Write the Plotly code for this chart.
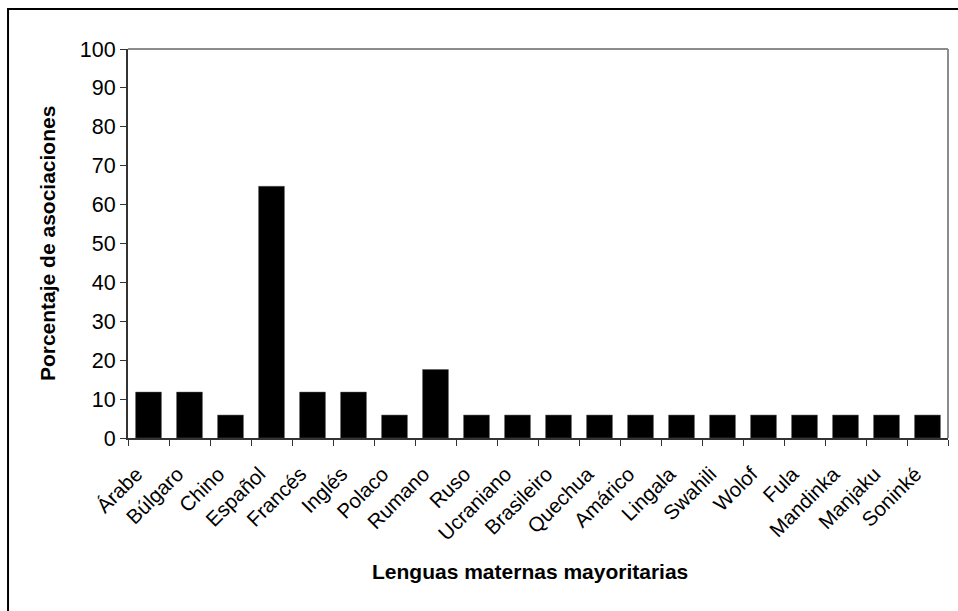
import plotly.graph_objects as go

languages = ["Árabe", "Búlgaro", "Chino", "Español", "Francés", "Inglés", "Polaco",
             "Rumano", "Ruso", "Ucraniano", "Brasileiro", "Quechua", "Amárico",
             "Lingala", "Swahili", "Wolof", "Fula", "Mandinka", "Manjaku", "Soninké"]
percentages = [11.8, 11.8, 5.9, 64.7, 11.8, 11.8, 5.9, 17.6, 5.9, 5.9, 5.9, 5.9,
               5.9, 5.9, 5.9, 5.9, 5.9, 5.9, 5.9, 5.9]
y_ticks = [0, 10, 20, 30, 40, 50, 60, 70, 80, 90, 100]

fig = go.Figure(go.Bar(
    x=languages, y=percentages,
    marker=dict(color="black", line=dict(color="#555555", width=0.5)),
))

fig.update_layout(
    width=958, height=611,
    margin=dict(l=128, r=10, t=49, b=173),
    plot_bgcolor="white", paper_bgcolor="white",
    bargap=0.37,
    showlegend=False,
    font=dict(family="Liberation Sans, Arial", color="black", size=19),
    xaxis=dict(
        tickangle=-45, tickson="boundaries", ticks="outside", ticklen=6,
        tickcolor="#333333", showline=True, linecolor="#333333", linewidth=2,
        tickfont=dict(size=20.5), ticklabelstandoff=14, ticklabelshift=-12,
    ),
    yaxis=dict(
        range=[0, 100], tickvals=y_ticks, ticks="outside", ticklen=6,
        tickcolor="#333333", showline=True, linecolor="#333333", linewidth=2,
        showgrid=False, zeroline=False, tickfont=dict(size=21.5),
    ),
    annotations=[
        dict(text="<b>Lenguas maternas mayoritarias</b>", xref="paper", yref="paper",
             x=0.49, y=-0.342, xanchor="center", yanchor="middle", showarrow=False,
             font=dict(size=21)),
        dict(text="<b>Porcentaje de asociaciones</b>", xref="paper", yref="paper",
             x=-0.0988, y=0.501, xanchor="center", yanchor="middle", showarrow=False,
             textangle=-90, font=dict(size=21)),
    ],
    shapes=[
        dict(type="line", xref="paper", yref="paper", x0=0, x1=1, y0=1, y1=1,
             line=dict(color="#8c8c8c", width=2)),
        dict(type="line", xref="paper", yref="paper", x0=1, x1=1, y0=0, y1=1,
             line=dict(color="#8c8c8c", width=2)),
        dict(type="rect", xref="paper", yref="paper", x0=-0.1463, x1=1.2,
             y0=-0.6, y1=1.1028, line=dict(color="black", width=2)),
    ],
)

fig.write_html("out.html", config={"displayModeBar": False},
               post_script="document.body.style.margin='0';")
